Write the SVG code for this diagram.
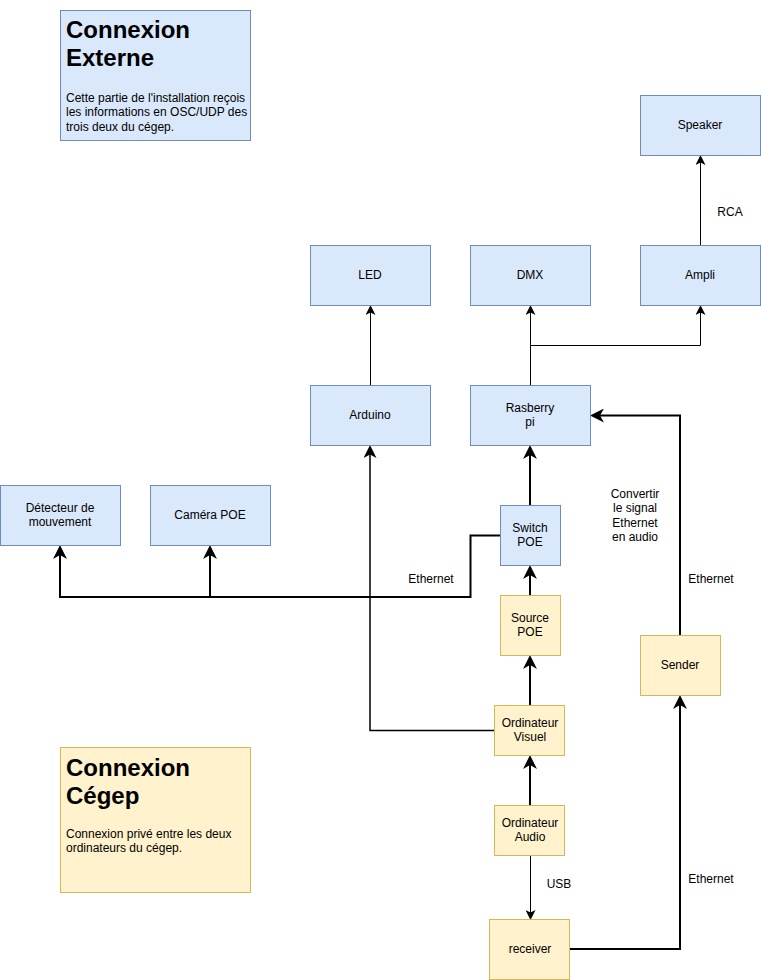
<svg xmlns="http://www.w3.org/2000/svg" width="761" height="980" viewBox="0 0 761 980">
<style>
.blue{fill:#dae8fc;stroke:#6c8ebf;stroke-width:1}
.yel{fill:#fff2cc;stroke:#d6b656;stroke-width:1}
text{font-family:"Liberation Sans",Arial,sans-serif;font-size:12px;fill:#000}
.lbl{text-anchor:middle}
.h{font-size:24px;font-weight:bold}
.thin{fill:none;stroke:#000;stroke-width:1;marker-end:url(#aThin)}
.thick{fill:none;stroke:#000;stroke-width:2}
.med{fill:none;stroke:#000;stroke-width:1.5;marker-end:url(#aMed)}
.arr{marker-end:url(#aThick)}
</style>
<defs>
<marker id="aThin" markerUnits="userSpaceOnUse" viewBox="0 0 10 10" markerWidth="10" markerHeight="10" refX="7" refY="5" orient="auto">
<path d="M0,0 L10,5 L0,10 L2.5,5 Z" fill="#000"/>
</marker>
<marker id="aMed" markerUnits="userSpaceOnUse" viewBox="0 0 13 13" markerWidth="13" markerHeight="13" refX="9" refY="6.5" orient="auto">
<path d="M0,0 L13,6.5 L0,13 L3.5,6.5 Z" fill="#000"/>
</marker>
<marker id="aThick" markerUnits="userSpaceOnUse" viewBox="0 0 14 14" markerWidth="14" markerHeight="14" refX="10" refY="7" orient="auto">
<path d="M0,0 L14,7 L0,14 L4,7 Z" fill="#000"/>
</marker>
</defs>

<g id="connectors">
<path class="thin" d="M370.5,385 V308"/>
<path class="thin" d="M530.5,385 V308"/>
<path class="thin" d="M530.5,345.5 H700.5 V308"/>
<path class="thin" d="M700.5,245 V158"/>
<path class="med" d="M495,730.5 H370 V449"/>
<path class="thin" d="M530.5,855 V917"/>
<path class="thick arr" d="M530,505 V449"/>
<path class="thick arr" d="M500,535.5 H470.5 V597 H60 V549"/>
<path class="thick arr" d="M210,597 V549"/>
<path class="thick arr" d="M530,595 V569"/>
<path class="thick arr" d="M530,705 V659"/>
<path class="thick arr" d="M530,805 V759"/>
<path class="thick arr" d="M570,949 H680 V699"/>
<path class="thick arr" d="M680,635 V415.5 H594"/>
<text class="lbl" x="730" y="216">RCA</text>
<text class="lbl" x="431" y="583">Ethernet</text>
<text class="lbl" x="711" y="583">Ethernet</text>
<text class="lbl" x="711" y="883">Ethernet</text>
<text class="lbl" x="559" y="888">USB</text>
</g>

<g id="connexion-externe">
<rect class="blue" x="60.5" y="10.5" width="190" height="130"/>
<text class="h" x="66" y="38">Connexion</text>
<text class="h" x="66" y="66">Externe</text>
<text x="66" y="101.5">Cette partie de l'installation reçois</text>
<text x="66" y="116">les informations en OSC/UDP des</text>
<text x="66" y="130.5">trois deux du cégep.</text>
</g>

<g id="speaker"><rect class="blue" x="640.5" y="95.5" width="120" height="60"/><text class="lbl" x="700" y="129">Speaker</text></g>
<g id="led"><rect class="blue" x="310.5" y="245.5" width="120" height="60"/><text class="lbl" x="370" y="279">LED</text></g>
<g id="dmx"><rect class="blue" x="470.5" y="245.5" width="120" height="60"/><text class="lbl" x="530" y="279">DMX</text></g>
<g id="ampli"><rect class="blue" x="640.5" y="245.5" width="120" height="60"/><text class="lbl" x="700" y="279">Ampli</text></g>
<g id="arduino"><rect class="blue" x="310.5" y="385.5" width="120" height="60"/><text class="lbl" x="370" y="419">Arduino</text></g>
<g id="rasberry"><rect class="blue" x="470.5" y="385.5" width="120" height="60"/><text class="lbl" x="530" y="412">Rasberry</text><text class="lbl" x="530" y="426">pi</text></g>
<g id="detecteur"><rect class="blue" x="0.5" y="485.5" width="120" height="60"/><text class="lbl" x="60" y="512">Détecteur de</text><text class="lbl" x="60" y="526">mouvement</text></g>
<g id="camera"><rect class="blue" x="150.5" y="485.5" width="120" height="60"/><text class="lbl" x="210" y="519">Caméra POE</text></g>
<g id="switch"><rect class="blue" x="500.5" y="505.5" width="60" height="60"/><text class="lbl" x="530" y="532">Switch</text><text class="lbl" x="530" y="546">POE</text></g>
<g id="convertir">
<text class="lbl" x="635" y="497.5">Convertir</text>
<text class="lbl" x="635" y="512">le signal</text>
<text class="lbl" x="635" y="526.5">Ethernet</text>
<text class="lbl" x="635" y="541">en audio</text>
</g>
<g id="source"><rect class="yel" x="500.5" y="595.5" width="60" height="60"/><text class="lbl" x="530" y="622">Source</text><text class="lbl" x="530" y="636">POE</text></g>
<g id="sender"><rect class="yel" x="640.5" y="635.5" width="80" height="60"/><text class="lbl" x="680" y="669">Sender</text></g>
<g id="ord-visuel"><rect class="yel" x="494.5" y="705.5" width="70" height="50"/><text class="lbl" x="530" y="727">Ordinateur</text><text class="lbl" x="530" y="741">Visuel</text></g>
<g id="ord-audio"><rect class="yel" x="494.5" y="805.5" width="70" height="50"/><text class="lbl" x="530" y="827">Ordinateur</text><text class="lbl" x="530" y="841">Audio</text></g>
<g id="receiver"><rect class="yel" x="489.5" y="919.5" width="80" height="60"/><text class="lbl" x="530" y="953">receiver</text></g>

<g id="connexion-cegep">
<rect class="yel" x="60.5" y="747.5" width="190" height="145"/>
<text class="h" x="66" y="776">Connexion</text>
<text class="h" x="66" y="804">Cégep</text>
<text x="66" y="837.5">Connexion privé entre les deux</text>
<text x="66" y="852">ordinateurs du cégep.</text>
</g>
</svg>
